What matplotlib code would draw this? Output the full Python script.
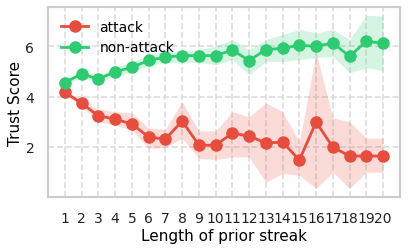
import matplotlib
matplotlib.use('Agg')
import matplotlib.pyplot as plt
import numpy as np

# streak length 1..20
streak = np.arange(1, 21)

attack_mean = [4.17, 3.74, 3.23, 3.11, 2.91, 2.40, 2.31, 3.03, 2.07, 2.07,
               2.55, 2.43, 2.16, 2.19, 1.48, 2.99, 1.99, 1.64, 1.64, 1.64]
attack_hi = [4.25, 3.85, 3.50, 3.40, 3.35, 2.75, 2.70, 3.80, 2.64, 2.64,
             3.40, 3.20, 3.75, 3.40, 2.20, 5.75, 3.15, 3.00, 2.35, 2.35]
attack_lo = [4.10, 3.60, 3.00, 2.87, 2.67, 1.95, 1.98, 2.35, 1.55, 1.50,
             1.60, 1.60, 0.60, 0.95, 0.87, 0.35, 1.00, 0.35, 1.00, 1.00]

nonattack_mean = [4.56, 4.90, 4.70, 4.99, 5.16, 5.44, 5.57, 5.63, 5.63, 5.63,
                  5.85, 5.43, 5.87, 5.92, 6.04, 6.00, 6.13, 5.60, 6.20, 6.12]
nonattack_hi = [4.68, 5.02, 4.82, 5.15, 5.38, 5.65, 5.75, 5.82, 5.87, 6.00,
                6.27, 5.87, 6.27, 6.47, 6.67, 6.53, 6.67, 6.27, 7.23, 7.20]
nonattack_lo = [4.44, 4.78, 4.58, 4.83, 4.95, 5.25, 5.35, 5.38, 5.35, 5.27,
                5.47, 4.87, 5.40, 5.40, 5.47, 5.55, 5.60, 4.95, 5.15, 5.04]

red = '#e74c3c'
green = '#2ecc71'

fig, ax = plt.subplots(figsize=(4.08, 2.51), dpi=100)
ax.fill_between(streak, attack_lo, attack_hi, color=red, alpha=0.2, linewidth=0)
ax.fill_between(streak, nonattack_lo, nonattack_hi, color=green, alpha=0.2, linewidth=0)
ax.plot(streak, attack_mean, '-o', color=red, lw=2, ms=8, label='attack')
ax.plot(streak, nonattack_mean, '-o', color=green, lw=2, ms=8, label='non-attack')

ax.set_xlim(0, 21)
ax.set_ylim(0, 7.56)
ax.set_xticks(streak)
ax.set_yticks([2, 4, 6])
ax.grid(True, linestyle='--', color='#dddddd', linewidth=1.2)
ax.set_axisbelow(True)
for s in ax.spines.values():
    s.set_color('#cccccc')
    s.set_linewidth(1.5)
ax.tick_params(length=0, pad=10, labelsize=10, colors='#222222')
ax.set_xlabel('Length of prior streak', fontsize=11, labelpad=2)
ax.set_ylabel('Trust Score', fontsize=11, labelpad=2)
ax.legend(loc='upper left', frameon=False, fontsize=10, borderaxespad=0.5)

plt.subplots_adjust(left=0.118, right=0.98, top=0.968, bottom=0.21)
plt.savefig('out.png')
